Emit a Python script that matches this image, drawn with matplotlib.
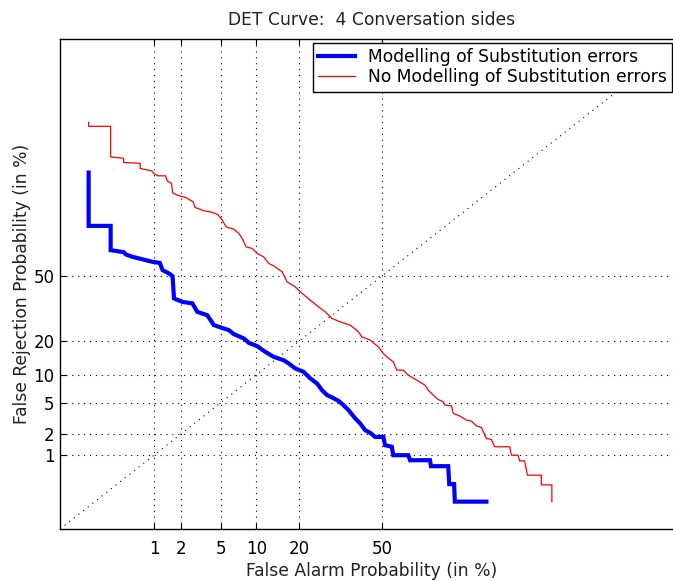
import numpy as np
import matplotlib
matplotlib.use("Agg")
import matplotlib.pyplot as plt
from matplotlib.ticker import FixedLocator, NullLocator
from math import erf

plt.rcParams['font.family'] = ['DejaVu Sans']

# DET curve points, in percent (false alarm, false rejection)
fa_sub = [0.136, 0.136, 0.278, 0.278, 0.415, 0.443, 0.542, 0.653, 0.954, 1.16,
          1.25, 1.48, 1.62, 1.68, 2.07, 2.64, 2.96, 3.71, 4.30, 4.97,
          5.90, 6.51, 7.91, 8.70, 10.12, 11.69, 13.44, 15.78, 17.06, 18.82,
          21.19, 23.23, 25.39, 27.04, 28.76, 30.51, 32.91, 34.76, 36.67, 39.29,
          41.26, 43.26, 45.27, 47.29, 50.65, 51.34, 54.06, 54.69, 60.67, 61.37,
          68.90, 69.25, 75.15, 75.48, 77.03, 77.24, 85.76]
fr_sub = [91.12, 74.35, 74.35, 63.23, 62.26, 61.12, 59.90, 59.11, 57.38, 56.87,
          53.11, 51.40, 50.0, 38.59, 36.90, 36.14, 32.12, 30.58, 26.20, 25.23,
          24.10, 22.54, 20.88, 19.28, 18.13, 16.22, 14.69, 13.70, 12.80, 11.47,
          10.67, 9.17, 8.12, 6.90, 6.09, 5.73, 5.23, 4.66, 4.07, 3.21,
          2.76, 2.25, 2.07, 1.82, 1.82, 1.39, 1.32, 0.99, 0.99, 0.83,
          0.83, 0.67, 0.67, 0.34, 0.34, 0.167, 0.167]

fa_nosub = [0.136, 0.136, 0.278, 0.278, 0.415, 0.415, 0.675, 0.675, 0.936, 0.994,
            1.10, 1.355, 1.41, 1.58, 1.62, 1.83, 2.24, 2.70, 2.80, 3.50,
            4.01, 4.68, 5.14, 5.58, 6.51, 7.20, 7.67, 8.27, 9.25, 10.12,
            11.36, 12.39, 13.44, 15.41, 16.65, 18.82, 20.24, 23.23, 25.91, 28.15,
            30.51, 33.54, 37.35, 40.57, 41.92, 45.27, 48.6, 50.65, 52.03, 54.69,
            56.07, 58.70, 60.67, 63.93, 67.06, 68.27, 70.06, 71.82, 73.51, 74.06,
            76.22, 76.73, 78.78, 80.67, 82.05, 83.34, 84.59, 85.76, 86.88, 87.58,
            90.46, 90.75, 91.82, 92.07, 92.79, 93.18, 94.86, 94.86, 95.90, 95.90]
fr_nosub = [97.73, 97.44, 97.44, 93.96, 93.75, 93.04, 92.91, 91.95, 91.46, 90.91,
            90.42, 90.42, 89.24, 88.62, 86.09, 85.40, 84.70, 83.29, 81.45, 80.20,
            79.84, 78.89, 76.67, 73.93, 72.96, 71.07, 68.83, 64.87, 64.08, 61.64,
            59.90, 56.55, 55.32, 52.23, 47.05, 44.48, 41.92, 37.73, 34.46, 32.12,
            29.11, 27.60, 26.20, 23.44, 21.49, 20.27, 17.87, 15.69, 14.69, 13.24,
            11.07, 11.07, 9.88, 8.81, 7.81, 6.90, 6.09, 5.42, 5.10, 4.66,
            4.57, 3.70, 3.43, 3.05, 2.96, 2.56, 2.45, 1.73, 1.68, 1.32,
            1.32, 0.99, 0.99, 0.81, 0.81, 0.48, 0.48, 0.33, 0.33, 0.167]

ticks = [1, 2, 5, 10, 20, 50]
tick_labels = ['1', '2', '5', '10', '20', '50']
lims = [0.05, 99.9]

# normal deviate scale (probit)
_erf = np.vectorize(erf, otypes=[float])

def dev_to_pct(z):
    z = np.asarray(z, dtype=float)
    return 50.0 * (1.0 + _erf(z / np.sqrt(2.0)))

def pct_to_dev(p):
    q = np.clip(np.asarray(p, dtype=float), 1e-8, 100 - 1e-8)
    lo = np.full_like(q, -8.0)
    hi = np.full_like(q, 8.0)
    for _ in range(50):
        mid = 0.5 * (lo + hi)
        below = dev_to_pct(mid) < q
        lo = np.where(below, mid, lo)
        hi = np.where(below, hi, mid)
    return 0.5 * (lo + hi)

dots = (0, (1, 4.3))

# the plot box is 624 px wide but the picture is cut at 673 px,
# so only 612.5 px of it shows and the x range is cut to match
full_w, shown_w = 624.0, 612.5
d_lo, d_hi = pct_to_dev(lims[0]), pct_to_dev(lims[1])
x_max = float(dev_to_pct(d_lo + (d_hi - d_lo) * shown_w / full_w))
x_mid = 0.5 * full_w / shown_w

fig = plt.figure(figsize=(6.73, 5.81), dpi=100)
ax = fig.add_axes([60/673, 52/581, shown_w/673, 490.3/581])
ax.set_xscale('function', functions=(pct_to_dev, dev_to_pct))
ax.set_yscale('function', functions=(pct_to_dev, dev_to_pct))

ax.plot(fa_sub, fr_sub, color='#0000ff', linewidth=3.0,
        label='Modelling of Substitution errors', solid_joinstyle='miter')
ax.plot(fa_nosub, fr_nosub, color='#ff0000', linewidth=0.9,
        label='No Modelling of Substitution errors')
ax.plot(lims, lims, color='k', linestyle=dots, linewidth=0.8)

ax.set_xlim(lims[0], x_max)
ax.set_ylim(lims)
for axis in (ax.xaxis, ax.yaxis):
    axis.set_major_locator(FixedLocator(ticks))
    axis.set_minor_locator(NullLocator())
ax.set_xticklabels(tick_labels)
ax.set_yticklabels(tick_labels)
ax.tick_params(direction='in', top=True, right=False, length=4.5,
               labelsize=12, colors='k')
ax.tick_params(axis='x', pad=8)
ax.tick_params(axis='y', pad=4)
ax.grid(True, linestyle=dots, color='k', linewidth=0.8)
for s in ax.spines.values():
    s.set_linewidth(1.0)
ax.spines['right'].set_visible(False)

ax.set_xlabel('False Alarm Probability (in %)', fontsize=12.3, labelpad=3,
              color='#222222', x=x_mid)
ax.set_ylabel('False Rejection Probability (in %)', fontsize=12.3, labelpad=2,
              color='#222222')
ax.set_title('DET Curve:  4 Conversation sides', fontsize=12.3, pad=10,
             color='#222222', x=x_mid)

leg = ax.legend(loc='upper left', bbox_to_anchor=(312.7/673, 1 - 43.3/581),
                bbox_transform=fig.transFigure, borderaxespad=0, fontsize=12.3,
                fancybox=False, framealpha=1, edgecolor='k', handlelength=2.2,
                handletextpad=0.72, borderpad=0.3, labelspacing=0.12)
leg.get_frame().set_linewidth(1.0)

fig.savefig('out.png', dpi=100)
